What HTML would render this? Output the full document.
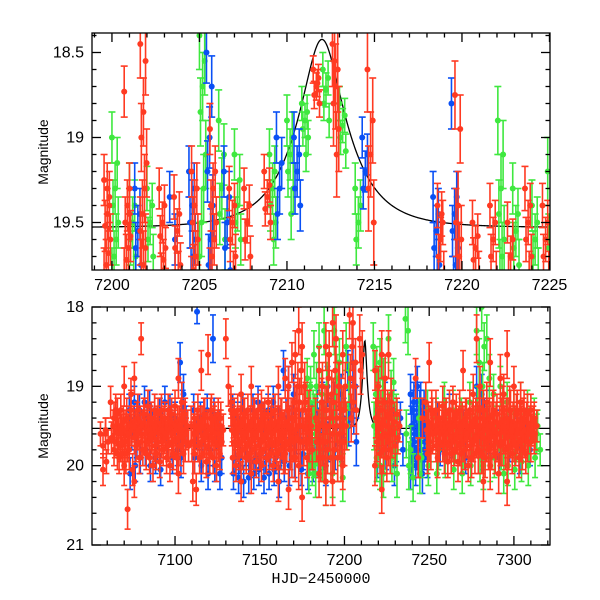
<!DOCTYPE html>
<html><head><meta charset="utf-8"><style>
html,body{margin:0;padding:0;background:#fff;}
svg{display:block;font-family:"Liberation Sans",sans-serif;}
</style></head><body>
<svg id="chart" width="600" height="600" viewBox="0 0 600 600">
<defs>
<clipPath id="clipTop"><rect x="92" y="33" width="458" height="237"/></clipPath>
<clipPath id="clipBot"><rect x="92" y="307" width="458" height="238"/></clipPath>
</defs>
<g id="topData" clip-path="url(#clipTop)"></g>
<g id="botData" clip-path="url(#clipBot)"></g>
<g id="axes"></g>
<text x="48" y="152" font-size="14" text-anchor="middle" transform="rotate(-90 48 152)">Magnitude</text>
<text x="48" y="426" font-size="14" text-anchor="middle" transform="rotate(-90 48 426)">Magnitude</text>
<text x="321" y="583" font-size="15" text-anchor="middle" font-family="Liberation Mono, monospace">HJD−2450000</text>
</svg>
<script>
// ---- data: [time, errorbar, [magnitudes...]] per night ----
const topRed = [
[7199.55,0.15,[19.25,19.35,19.45,19.52,19.6,19.68,19.75,19.8,19.4,19.3]],
[7200.7,0.15,[18.73,19.3,19.4,19.5,19.58,19.65,19.72,19.8,19.45]],
[7201.62,0.2,[18.45,18.55,18.85,19.0,19.15,19.3,19.45,19.55,19.65,19.75,19.8]],
[7202.7,0.12,[19.3,19.4,19.5,19.58,19.65,19.72,19.8]],
[7203.55,0.13,[19.35,19.45,19.55,19.65,19.75,19.8]],
[7204.55,0.15,[19.2,19.3,19.4,19.5,19.6,19.7,19.78,19.85]],
[7205.6,0.15,[18.95,19.2,19.3,19.4,19.5,19.6,19.7,19.8]],
[7206.7,0.13,[19.3,19.4,19.5,19.6,19.7,19.8]],
[7207.55,0.12,[19.3,19.4,19.5,19.6,19.7]],
[7208.7,0.1,[19.2,19.28,19.35,19.42,19.5]],
[7211.5,0.08,[18.6,18.65,18.7,18.75,18.8,18.68]],
[7212.6,0.25,[18.45,18.6,18.7,18.8,18.95,19.1,18.55]],
[7214.6,0.25,[18.6,18.9,19.1,19.3,19.5]],
[7218.6,0.13,[19.4,19.5,19.6,19.7,19.8,19.45]],
[7219.6,0.2,[18.75,18.95,19.4,19.5,19.6,19.7,19.8]],
[7220.6,0.13,[19.5,19.58,19.65,19.72,19.8]],
[7221.6,0.13,[19.4,19.5,19.6,19.7,19.8]],
[7222.6,0.12,[19.5,19.6,19.7,19.8]],
[7223.6,0.13,[19.3,19.4,19.5,19.6,19.7,19.8]],
[7224.6,0.13,[19.4,19.5,19.6,19.7,19.8]]
];
const topGreen = [
[7200.0,0.15,[19.0,19.15,19.3,19.4,19.5,19.6,19.7,19.8]],
[7201.0,0.15,[19.3,19.4,19.5,19.6,19.7,19.8]],
[7202.0,0.13,[19.3,19.4,19.5,19.6,19.7]],
[7205.0,0.2,[18.4,18.55,18.7,18.85,19.1,19.3,19.5,19.7]],
[7206.1,0.18,[18.9,19.1,19.3,19.45,19.6]],
[7207.0,0.15,[19.1,19.25,19.4,19.5,19.6]],
[7209.0,0.15,[19.1,19.2,19.3,19.4,19.5,19.6]],
[7210.0,0.15,[18.9,19.0,19.1,19.2,19.3,19.45]],
[7210.85,0.1,[18.8,18.85,18.9,18.95,19.0,19.1]],
[7212.05,0.1,[18.6,18.65,18.72,18.8,18.9]],
[7213.0,0.1,[18.8,18.87,18.93,19.0,19.08]],
[7213.9,0.15,[19.3,19.4,19.5,19.6]],
[7222.05,0.2,[18.9,19.1,19.3,19.45,19.6,19.7,19.8]],
[7222.9,0.15,[19.3,19.45,19.55,19.65,19.75]],
[7224.0,0.15,[19.4,19.5,19.6,19.7,19.8]],
[7224.9,0.2,[19.2,19.35,19.5,19.65,19.8]]
];
const topBlue = [
[7201.3,0.15,[19.3,19.45,19.55,19.65,19.75]],
[7203.3,0.15,[19.35,19.6]],
[7204.4,0.15,[19.2,19.3,19.4,19.5,19.6,19.7,19.8]],
[7205.4,0.18,[18.5,18.7,19.0,19.2,19.4,19.6,19.75]],
[7206.4,0.15,[19.2,19.35,19.5,19.65,19.78]],
[7209.4,0.15,[19.0,19.15,19.3,19.45]],
[7210.4,0.15,[19.0,19.1,19.2,19.3,19.4]],
[7214.3,0.12,[19.0,19.1,19.2,19.3]],
[7218.35,0.15,[19.35,19.45,19.55,19.65,19.75,19.85]],
[7219.4,0.15,[18.8,19.35,19.45,19.55,19.65,19.75,19.85]]
];
const botRed = [
[7056,0.15,[19.6,19.75]],[7057.5,0.2,[20.05,19.6]],[7059,0.15,[19.55,19.7,19.95]],
[7062,0.2,[19.2,19.5,19.65,19.8]],[7064,0.2,[19.4,19.55,19.7,19.85,19.3]],
[7066,0.2,[19.35,19.5,19.6,19.75,19.9]],[7068,0.2,[19.3,19.45,19.55,19.7,19.85,19.6]],
[7070,0.25,[19.0,19.4,19.55,19.7,19.85,20.0]],[7072,0.25,[20.55,19.5,19.6,19.3,19.8]],
[7074,0.2,[19.1,19.45,19.55,19.65,20.05]],[7076,0.2,[18.9,19.4,19.5,19.6,19.75,20.2]],
[7078,0.2,[19.3,19.45,19.55,19.7,19.9]],[7080,0.2,[18.4,19.35,19.5,19.6,19.8]],
[7082,0.2,[19.35,19.5,19.6,19.7,19.85]],[7084,0.2,[19.25,19.45,19.55,19.65,19.9]],
[7086,0.2,[19.4,19.5,19.6,19.75,20.0]],[7088,0.2,[19.3,19.45,19.55,19.7,19.85]],
[7090,0.2,[19.35,19.5,19.6,19.7,19.95]],[7092,0.2,[19.3,19.45,19.55,19.65,19.8]],
[7094,0.2,[19.4,19.5,19.6,19.75,19.9]],[7096,0.2,[19.3,19.45,19.55,19.7,20.0]],
[7098,0.2,[19.35,19.5,19.6,19.7,19.85]],[7100,0.2,[19.25,19.45,19.55,19.65,19.9]],
[7102,0.25,[18.9,19.4,19.5,19.6,19.75,20.1]],[7104,0.25,[19.2,19.45,19.55,19.7,19.85]],
[7106,0.2,[19.35,19.5,19.6,19.75]],
[7109.5,0.25,[19.5,19.6,19.7,19.85,20.2]],[7111.5,0.2,[19.4,19.5,19.6,19.75,20.3]],
[7113.5,0.2,[19.3,19.45,19.55,19.7,19.9]],[7115.5,0.25,[18.8,19.4,19.5,19.65,19.85]],
[7117.5,0.2,[19.35,19.5,19.6,19.75,19.95]],[7119.5,0.25,[18.6,19.4,19.55,19.65,19.85]],
[7121.5,0.2,[19.3,19.45,19.55,19.7,19.9]],[7123.5,0.2,[19.4,19.5,19.6,19.75,20.0]],
[7125.5,0.2,[19.35,19.5,19.6,19.7,19.85]],[7127,0.2,[19.4,19.55,19.7]],
[7130,0.25,[18.4,19.0]],
[7133,0.2,[19.3,19.45,19.55,19.7,19.9,19.2]],[7135,0.2,[19.35,19.5,19.6,19.75,20.0]],
[7137,0.2,[19.3,19.45,19.55,19.7,19.85]],[7139,0.25,[19.1,19.4,19.5,19.65,19.8,20.2]],
[7141,0.2,[19.35,19.5,19.6,19.75,19.9]],[7143,0.2,[19.3,19.45,19.55,19.7,19.85]],
[7145,0.25,[19.0,19.4,19.5,19.65,19.8,20.1]],[7147,0.2,[19.35,19.5,19.6,19.75,19.95]],
[7149,0.2,[19.3,19.45,19.55,19.7,19.85]],[7151,0.2,[19.25,19.4,19.5,19.65,19.8,20.0]],
[7153,0.2,[19.35,19.5,19.6,19.75,19.9]],[7155,0.2,[19.2,19.45,19.55,19.7,19.85]],
[7157,0.2,[19.35,19.5,19.6,19.75,20.0]],[7159,0.2,[19.3,19.45,19.55,19.7,19.85]],
[7161,0.25,[19.0,19.4,19.5,19.65,19.8,20.2]],[7163,0.2,[19.35,19.5,19.6,19.75,19.9]],
[7165,0.25,[18.9,19.3,19.45,19.55,19.7,19.85]],[7167,0.25,[19.0,19.4,19.5,19.65,19.8,20.3]],
[7169,0.25,[18.7,19.2,19.4,19.55,19.7,19.9]],[7171,0.3,[18.6,19.0,19.3,19.5,19.65,19.9]],
[7173,0.3,[18.3,18.8,19.2,19.5,19.7,20.0]],[7175,0.3,[18.5,19.0,19.3,19.5,19.7,20.4]],
[7177,0.25,[19.2,19.4,19.55,19.7,19.9]],[7179,0.25,[19.3,19.5,19.6,19.8]],
[7183,0.25,[19.4,19.55,19.7,19.9]],[7185,0.3,[18.8,19.2,19.5,19.7,19.9,20.1]],
[7187,0.3,[19.0,19.3,19.5,19.7,19.9]],[7189,0.3,[18.5,18.9,19.3,19.5,19.8,20.2]],
[7191,0.3,[18.6,19.1,19.4,19.6,19.9]],[7193,0.3,[18.2,18.8,19.2,19.5,19.8,20.2]],
[7195,0.3,[18.4,19.0,19.4,19.6,19.9]],[7197,0.3,[19.0,19.3,19.5,19.7,19.9]],
[7199,0.3,[18.6,19.0,19.3,19.5,19.7,20.0]],[7203,0.3,[18.1,18.5,18.9,19.2,19.4]],
[7205,0.3,[18.2,18.7,19.0,19.3]],[7209,0.3,[18.4,18.6,18.8]],
[7218,0.25,[18.8,19.2,19.4,19.55,19.7,20.0]],[7220,0.25,[19.0,19.3,19.5,19.65,19.85]],
[7222,0.3,[18.6,19.2,19.45,19.6,19.8,20.3]],[7224,0.3,[18.9,19.35,19.5,19.7,19.9]],
[7226,0.3,[18.6,19.2,19.4,19.6,19.8]],[7228,0.25,[19.3,19.45,19.6,19.75]],
[7231,0.2,[19.35,19.5,19.65]],[7242,0.25,[18.9,19.9]],[7246,0.25,[19.4]],
[7248,0.25,[19.2,19.45,19.55,19.7,19.85]],[7250,0.25,[18.7,19.3,19.5,19.6,19.8]],
[7252,0.2,[19.35,19.5,19.6,19.75]],[7254,0.25,[19.3,19.45,19.55,19.7,19.9]],
[7256,0.2,[19.4,19.5,19.6,19.75]],[7258,0.25,[19.25,19.45,19.55,19.7,19.85]],
[7260,0.2,[19.35,19.5,19.6,19.75,19.95]],[7262,0.25,[19.3,19.45,19.55,19.7,19.85]],
[7264,0.2,[19.2,19.4,19.5,19.65,19.8]],[7266,0.25,[19.35,19.5,19.6,19.75,19.95]],
[7268,0.25,[19.3,19.45,19.55,19.7,19.85]],[7270,0.25,[18.8,19.4,19.5,19.65,19.8]],
[7272,0.2,[19.35,19.5,19.6,19.75,20.0]],[7274,0.25,[19.3,19.45,19.55,19.7,19.9]],
[7276,0.25,[19.1,19.4,19.5,19.65,19.85]],[7278,0.3,[18.4,19.3,19.5,19.6,19.8]],
[7280,0.25,[19.0,19.4,19.5,19.65,19.85]],[7282,0.25,[19.3,19.45,19.55,19.7,19.9,20.2]],
[7284,0.25,[19.2,19.4,19.5,19.65,19.8]],[7286,0.3,[18.7,19.35,19.5,19.6,19.75,20.0]],
[7288,0.25,[19.3,19.45,19.55,19.7,19.85]],[7290,0.25,[19.35,19.5,19.6,19.75,20.1]],
[7292,0.3,[18.9,19.3,19.45,19.55,19.7]],[7294,0.25,[19.1,19.4,19.5,19.65,19.8]],
[7296,0.3,[18.6,19.3,19.45,19.6,19.75,20.2]],[7298,0.25,[19.3,19.45,19.55,19.7,19.85]],
[7300,0.25,[19.0,19.35,19.5,19.6,19.75]],[7302,0.25,[19.3,19.45,19.55,19.7,19.9]],
[7304,0.25,[19.2,19.4,19.5,19.65,19.8]],[7306,0.25,[19.3,19.45,19.55,19.7,19.85]],
[7308,0.25,[19.35,19.5,19.6,19.7]],[7310,0.2,[19.3,19.45,19.55,19.65]],
[7312,0.2,[19.4,19.5,19.6]]
];
const botBlue = [
[7073,0.2,[19.3,19.6,20.1]],[7076,0.2,[19.2,19.7,20.0]],[7079,0.2,[19.3,19.5,19.9]],
[7082,0.2,[19.2,19.4,19.8]],[7085,0.2,[19.25,19.5,20.0]],[7088,0.2,[19.3,19.6,19.9]],
[7091,0.2,[19.35,19.5,20.05]],[7094,0.2,[19.2,19.7]],[7097,0.2,[19.3,19.9]],
[7100,0.2,[19.4,19.8]],[7103,0.25,[18.7,19.3,19.9]],[7105,0.25,[19.1,19.5]],
[7113,0.15,[18.06]],[7122.4,0.3,[18.4]],
[7111,0.2,[19.3,19.6,19.9]],[7115,0.2,[19.4,19.7,20.0]],[7119,0.2,[19.3,19.8,20.1]],
[7123,0.2,[19.35,19.6,20.0]],[7126,0.2,[19.5,19.9,20.1]],
[7134,0.2,[19.3,19.9,20.1]],[7137,0.2,[19.4,19.9,20.15]],[7140,0.2,[19.3,19.8,20.2]],
[7143,0.2,[19.5,19.95,20.15]],[7146,0.2,[19.3,19.9,20.1]],[7149,0.2,[19.2,19.85,20.05]],
[7152,0.2,[19.4,19.9,20.15]],[7155,0.2,[19.3,19.8,20.1]],[7158,0.2,[19.2,19.9,20.05]],
[7161,0.2,[19.3,19.85,20.2]],[7164,0.25,[18.8,19.4,19.95]],[7167,0.25,[19.0,19.5,20.0]],
[7170,0.25,[19.1,19.6,19.9]],[7174,0.2,[19.5,19.85,20.05]],[7178,0.2,[19.55,19.9,20.1]],
[7181,0.2,[19.4,19.7,20.0]],
[7184,0.25,[19.3,19.6,19.9]],[7187,0.25,[19.2,19.5,19.8,20.0]],[7190,0.25,[19.0,19.4,19.7]],
[7194,0.25,[19.2,19.5,19.8]],[7198,0.25,[19.1,19.4,19.7]],[7202,0.25,[18.8,19.2,19.5]],
[7205,0.3,[18.7,19.0,19.3,19.7]],[7219,0.25,[19.3,19.6,19.9]],[7224,0.25,[19.2,19.5,19.8]],
[7229,0.25,[19.3,19.7,20.0]],[7233,0.2,[19.4,19.8]],
[7239,0.25,[19.1,19.3,19.5,19.7,19.9,20.05]],[7241,0.25,[19.2,19.4,19.6,19.8,20.0]],
[7243,0.25,[19.0,19.3,19.5,19.7,19.9]],[7245,0.25,[19.2,19.4,19.6,19.8,20.1]],
[7247,0.25,[19.3,19.5,19.7,19.9]],
[7255,0.2,[19.4,19.8]],[7262,0.2,[19.3,19.7]],[7270,0.2,[19.5,19.9]],[7278,0.25,[19.0,19.5]],
[7281,0.25,[19.1,19.4,19.8]],[7284,0.25,[19.3,19.6]],[7290,0.2,[19.5,19.9]],
[7296,0.2,[19.4,19.75]],[7302,0.2,[19.6,19.9]],[7308,0.2,[19.5,19.8]]
];
const botGreen = [
[7178,0.25,[18.9,19.2,19.5,19.8,20.1]],[7180,0.25,[19.0,19.3,19.6,19.9,20.0]],
[7182,0.3,[18.6,19.0,19.4,19.7,20.1]],[7185,0.3,[18.5,19.1,19.5,19.9]],
[7188,0.3,[18.3,19.0,19.4,19.8,20.2]],[7191,0.3,[18.6,19.2,19.6,20.1]],
[7194,0.3,[18.3,18.9,19.4,19.9]],[7197,0.3,[18.7,19.3,19.7,20.15]],
[7201,0.3,[18.5,19.0,19.5]],[7217,0.3,[18.5,19.1,19.5,19.9]],
[7219,0.3,[18.8,19.3,19.7,20.0]],[7221,0.3,[18.7,19.2,19.6,20.1]],
[7223,0.25,[18.9,19.4,19.8]],[7226,0.3,[18.4,19.1,19.5,19.9]],
[7229,0.3,[18.95,19.4,19.8,20.1]],[7236,0.3,[18.15,18.3,19.6,20.0]],
[7239,0.3,[19.8,20.15]],[7244,0.25,[19.4,19.9,20.1]],[7249,0.25,[19.3,19.7,20.0]],
[7254,0.25,[19.4,19.8,20.1]],[7259,0.25,[19.2,19.6,19.9]],[7264,0.25,[19.3,19.7,20.05]],
[7269,0.25,[19.4,19.8,20.1]],[7274,0.25,[19.2,19.6,20.0]],[7278,0.3,[18.3,18.7,19.3,19.9]],
[7281,0.3,[18.0,18.5,19.0,19.6,20.0]],[7284,0.3,[18.4,18.9,19.5,19.9]],
[7288,0.25,[19.1,19.5,19.9]],[7292,0.25,[19.0,19.4,19.8,20.1]],[7296,0.25,[19.2,19.6,20.0]],
[7300,0.25,[19.3,19.7,20.05]],[7304,0.25,[19.2,19.6,19.95]],[7308,0.25,[19.3,19.7,20.0]],
[7312,0.25,[19.4,19.6,19.9]],[7314,0.2,[19.5,19.8]]
];
// microlensing model parameters
const modelParams = [7212.0, 2.7, 0.38, 19.53]; // t0, tE, u0, baseline mag
const topXTicks = [7200,7205,7210,7215,7220,7225];
const topYTicks = [18.5,19,19.5];
const botXTicks = [7100,7150,7200,7250,7300];
const botYTicks = [18,19,20,21];

const NS="http://www.w3.org/2000/svg";
const pTop = {x0:92,x1:550,y0:33,y1:270,tmin:7198.86,tmax:7225.03,mtop:18.3853,mbot:19.7794};
const pBot = {x0:92,x1:550,y0:307,y1:545,tmin:7051.0,tmax:7321.3,mtop:18,mbot:21};
function X(p,t){return p.x0+(t-p.tmin)/(p.tmax-p.tmin)*(p.x1-p.x0);}
function Y(p,m){return p.y0+(m-p.mtop)/(p.mbot-p.mtop)*(p.y1-p.y0);}
function mk(tag,attrs,parent){const e=document.createElementNS(NS,tag);for(const k in attrs)e.setAttribute(k,attrs[k]);parent.appendChild(e);return e;}

function drawSeries(p,g,data,color,name,step,mod,mul,r,cap){
  const sg=mk('g',{},g);
  
  
  data.forEach(n=>{
    const t0=n[0],err=n[1];
    n[2].forEach((m,i)=>{
      const x=X(p,t0+((i*mul)%mod)*step), y=Y(p,m), ya=Y(p,m-err), yb=Y(p,m+err);
      const pg=mk('g',{stroke:color,'stroke-width':1.6,fill:color},sg);
      
      
      mk('line',{x1:x,y1:ya,x2:x,y2:yb},pg);
      mk('line',{x1:x-cap,y1:ya,x2:x+cap,y2:ya},pg);
      mk('line',{x1:x-cap,y1:yb,x2:x+cap,y2:yb},pg);
      mk('circle',{cx:x,cy:y,r:r,stroke:'none'},pg);
    });
  });
}
function modelMag(t){
  const t0=modelParams[0],tE=modelParams[1],u0=modelParams[2],m0=modelParams[3];
  const u=Math.sqrt(u0*u0+Math.pow((t-t0)/tE,2));
  const A=(u*u+2)/(u*Math.sqrt(u*u+4));
  return m0-2.5*Math.log10(A);
}
function drawModel(p,g,name){
  let d='';
  for(let x=p.x0;x<=p.x1;x+=0.5){
    const t=p.tmin+(x-p.x0)/(p.x1-p.x0)*(p.tmax-p.tmin);
    d+=(d?'L':'M')+x.toFixed(1)+','+Y(p,modelMag(t)).toFixed(2);
  }
  const path=mk('path',{d:d,fill:'none',stroke:'#000','stroke-width':1.3},g);
  
  
}
const RED='#ff3a22', GREEN='#3fe83f', BLUE='#0a50f5';
const tg=document.getElementById('topData'), bg=document.getElementById('botData');
drawModel(pTop,tg,'top-model-curve');
drawSeries(pTop,tg,topGreen,GREEN,'top-series-green',0.06,7,5,3,3.5);
drawSeries(pTop,tg,topBlue,BLUE,'top-series-blue',0.06,7,5,3,3.5);
drawSeries(pTop,tg,topRed,RED,'top-series-red',0.06,7,5,3,3.5);
drawModel(pBot,bg,'bottom-model-curve');
drawSeries(pBot,bg,botBlue,BLUE,'bottom-series-blue',0.5,5,3,3,3);
drawSeries(pBot,bg,botGreen,GREEN,'bottom-series-green',0.5,5,3,3,3);
drawSeries(pBot,bg,botRed,RED,'bottom-series-red',0.5,5,3,3,3);

const ax=document.getElementById('axes');
function frame(p,name,xTicks,xMinorStep,yTicks,yMinorStep){
  const g=mk('g',{stroke:'#000','stroke-width':1.3,fill:'none'},ax);
  
  
  mk('rect',{x:p.x0,y:p.y0,width:p.x1-p.x0,height:p.y1-p.y0},g);
  for(let k=Math.ceil(p.tmin/xMinorStep);k*xMinorStep<=p.tmax+1e-6;k++){
    const t=k*xMinorStep;
    const x=X(p,t), major=xTicks.some(v=>Math.abs(v-t)<1e-6), L=major?9:4.5;
    mk('line',{x1:x,y1:p.y1,x2:x,y2:p.y1-L},g);
    mk('line',{x1:x,y1:p.y0,x2:x,y2:p.y0+L},g);
  }
  for(let k=Math.ceil(p.mtop/yMinorStep-1e-6);k*yMinorStep<=p.mbot+1e-6;k++){
    const m=k*yMinorStep;
    const y=Y(p,m), major=yTicks.some(v=>Math.abs(v-m)<1e-6), L=major?9:4.5;
    mk('line',{x1:p.x0,y1:y,x2:p.x0+L,y2:y},g);
    mk('line',{x1:p.x1,y1:y,x2:p.x1-L,y2:y},g);
  }
  xTicks.forEach(v=>{
    const tx=mk('text',{x:X(p,v),y:p.y1+20,'font-size':16,'text-anchor':'middle',fill:'#000'},ax);
    tx.textContent=v;
    
    
  });
  yTicks.forEach(v=>{
    const ty=mk('text',{x:p.x0-8,y:Y(p,v)+5,'font-size':16,'text-anchor':'end',fill:'#000'},ax);
    ty.textContent=v;
    
    
  });
}
frame(pTop,'top-panel-frame',topXTicks,1,topYTicks,0.1);
frame(pBot,'bottom-panel-frame',botXTicks,10,botYTicks,0.2);
</script>
</body></html>
